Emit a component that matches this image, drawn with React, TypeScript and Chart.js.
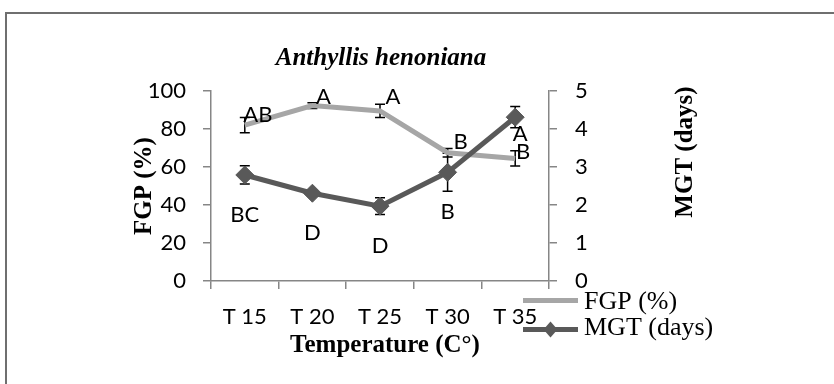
import React, { useEffect, useRef } from 'react';
import { Chart, registerables } from 'chart.js';

Chart.register(...registerables);

// ---- data ----
const categories = ['T 15', 'T 20', 'T 25', 'T 30', 'T 35'];
const fgpValues = [82, 92.3, 89.5, 67.5, 64.5];
const fgpErrors = [4, 1.5, 3.5, 2.3, 4];
const mgtValues = [2.79, 2.31, 1.97, 2.86, 4.31];
const mgtErrors = [0.24, 0.08, 0.22, 0.5, 0.28];
const fgpLetters = ['AB', 'A', 'A', 'B', 'B'];
const mgtLetters = ['BC', 'D', 'D', 'B', 'A'];
const leftAxis = { min: 0, max: 100, step: 20 };
const rightAxis = { min: 0, max: 5, step: 1 };

const chartTitle = 'Anthyllis henoniana';
const xTitle = 'Temperature (C°)';
const yTitle = 'FGP (%)';
const y1Title = 'MGT (days)';
const fgpName = 'FGP (%)';
const mgtName = 'MGT (days)';

// ---- styles ----
const FGP_COLOR = '#a6a6a6';
const MGT_COLOR = '#595959';
const AXIS_COLOR = '#868686';
const SANS = 'Lato, "Open Sans", sans-serif';
const SERIF = '"Liberation Serif", "DejaVu Serif", serif';
const fgpLetterShift = [[13, -10], [11, -9], [13, -14], [13, -11], [8, -7]];
const mgtLetterShift = [[0, 40], [0, 40], [0, 40], [0, 40], [5, 17]];

const decorPlugin = {
  id: 'decor',
  beforeDraw(chart: any) {
    const ctx = chart.ctx;
    ctx.save();
    ctx.fillStyle = '#ffffff';
    ctx.fillRect(0, 0, chart.width, chart.height);
    ctx.strokeStyle = '#6f6f6f';
    ctx.lineWidth = 2;
    ctx.strokeRect(6, 13, chart.width + 20, chart.height + 20);
    ctx.restore();
  },
  beforeDatasetsDraw(chart: any) {
    const ctx = chart.ctx;
    ctx.save();
    ctx.strokeStyle = '#000000';
    ctx.lineWidth = 1.5;
    const sets = [
      { idx: 0, vals: fgpValues, errs: fgpErrors },
      { idx: 1, vals: mgtValues, errs: mgtErrors },
    ];
    sets.forEach(({ idx, vals, errs }) => {
      const meta = chart.getDatasetMeta(idx);
      const scale = chart.scales[meta.yAxisID];
      meta.data.forEach((pt: any, j: number) => {
        const x = pt.x;
        const yT = scale.getPixelForValue(vals[j] + errs[j]);
        const yB = scale.getPixelForValue(vals[j] - errs[j]);
        ctx.beginPath();
        ctx.moveTo(x, yT);
        ctx.lineTo(x, yB);
        ctx.moveTo(x - 5, yT);
        ctx.lineTo(x + 5, yT);
        ctx.moveTo(x - 5, yB);
        ctx.lineTo(x + 5, yB);
        ctx.stroke();
      });
    });
    ctx.restore();
  },
  afterDraw(chart: any) {
    const ctx = chart.ctx;
    const area = chart.chartArea;
    ctx.save();
    // letters
    ctx.fillStyle = '#000000';
    ctx.font = `22px ${SANS}`;
    ctx.textAlign = 'center';
    ctx.textBaseline = 'middle';
    const m0 = chart.getDatasetMeta(0);
    m0.data.forEach((pt: any, j: number) => {
      ctx.fillText(fgpLetters[j], pt.x + fgpLetterShift[j][0], pt.y + fgpLetterShift[j][1]);
    });
    const m1 = chart.getDatasetMeta(1);
    m1.data.forEach((pt: any, j: number) => {
      ctx.fillText(mgtLetters[j], pt.x + mgtLetterShift[j][0], pt.y + mgtLetterShift[j][1]);
    });

    // title
    const cx = (area.left + area.right) / 2;
    ctx.textBaseline = 'alphabetic';
    ctx.font = `italic bold 25px ${SERIF}`;
    ctx.fillText(chartTitle, cx + 1, 65);

    // x title
    ctx.font = `bold 25px ${SERIF}`;
    ctx.fillText(xTitle, cx + 5, 352);

    // y title (left)
    ctx.save();
    ctx.translate(area.left - 66, (area.top + area.bottom) / 2);
    ctx.rotate(-Math.PI / 2);
    ctx.textBaseline = 'middle';
    ctx.fillText(yTitle, 0, 0);
    ctx.restore();

    // y1 title (right)
    ctx.save();
    ctx.translate(area.right + 137, area.top + 61);
    ctx.rotate(-Math.PI / 2);
    ctx.textBaseline = 'middle';
    ctx.fillText(y1Title, 0, 0);
    ctx.restore();

    // legend
    const lx0 = area.right - 26;
    const lx1 = area.right + 29;
    const ly0 = 300.5;
    const ly1 = 329.5;
    ctx.lineCap = 'butt';
    ctx.lineWidth = 5;
    ctx.strokeStyle = FGP_COLOR;
    ctx.beginPath();
    ctx.moveTo(lx0, ly0);
    ctx.lineTo(lx1, ly0);
    ctx.stroke();
    ctx.strokeStyle = MGT_COLOR;
    ctx.beginPath();
    ctx.moveTo(lx0, ly1);
    ctx.lineTo(lx1, ly1);
    ctx.stroke();
    const dx = (lx0 + lx1) / 2;
    ctx.fillStyle = MGT_COLOR;
    ctx.beginPath();
    ctx.moveTo(dx, ly1 - 8);
    ctx.lineTo(dx + 7, ly1);
    ctx.lineTo(dx, ly1 + 8);
    ctx.lineTo(dx - 7, ly1);
    ctx.closePath();
    ctx.fill();
    ctx.fillStyle = '#000000';
    ctx.font = `26px ${SERIF}`;
    ctx.textAlign = 'left';
    ctx.textBaseline = 'alphabetic';
    ctx.fillText(fgpName, lx1 + 6, 309);
    ctx.fillText(mgtName, lx1 + 6, 335);
    ctx.restore();
  },
};

export default function App() {
  const ref = useRef<HTMLCanvasElement | null>(null);
  useEffect(() => {
    if (!ref.current) return;
    const tickFont = { family: SANS, size: 22 };
    const chart = new Chart(ref.current, {
      type: 'line',
      data: {
        labels: categories,
        datasets: [
          {
            label: fgpName,
            data: fgpValues,
            yAxisID: 'y',
            borderColor: FGP_COLOR,
            backgroundColor: FGP_COLOR,
            borderWidth: 5,
            pointRadius: 0,
            pointHoverRadius: 0,
            tension: 0,
            order: 1,
          },
          {
            label: mgtName,
            data: mgtValues,
            yAxisID: 'y1',
            borderColor: MGT_COLOR,
            backgroundColor: MGT_COLOR,
            borderWidth: 5,
            pointStyle: 'rectRot',
            pointRadius: 9,
            pointBackgroundColor: MGT_COLOR,
            pointBorderColor: MGT_COLOR,
            pointBorderWidth: 1,
            tension: 0,
            order: 0,
          },
        ],
      },
      options: {
        responsive: false,
        animation: false,
        events: [],
        layout: { padding: { top: 91, left: 0, right: 0, bottom: 0 } },
        plugins: {
          legend: { display: false },
          title: { display: false },
          tooltip: { enabled: false },
        },
        scales: {
          x: {
            type: 'category',
            offset: true,
            grid: {
              display: true,
              drawOnChartArea: false,
              offset: true,
              tickLength: 8,
              color: AXIS_COLOR,
              lineWidth: 1.5,
            },
            border: { display: true, color: AXIS_COLOR, width: 1.5 },
            ticks: { font: tickFont, color: '#000000', padding: 15, maxRotation: 0, autoSkip: false },
            afterFit: (s: any) => {
              s.height = 103;
            },
          },
          y: {
            position: 'left',
            min: leftAxis.min,
            max: leftAxis.max,
            grid: {
              display: true,
              drawOnChartArea: false,
              tickLength: 8,
              color: AXIS_COLOR,
              lineWidth: 1.5,
            },
            border: { display: true, color: AXIS_COLOR, width: 1.5 },
            ticks: { stepSize: leftAxis.step, font: tickFont, color: '#000000', padding: 17 },
            afterFit: (s: any) => {
              s.width = 211;
            },
          },
          y1: {
            position: 'right',
            min: rightAxis.min,
            max: rightAxis.max,
            grid: {
              display: true,
              drawOnChartArea: false,
              tickLength: 8,
              color: AXIS_COLOR,
              lineWidth: 1.5,
            },
            border: { display: true, color: AXIS_COLOR, width: 1.5 },
            ticks: { stepSize: rightAxis.step, font: tickFont, color: '#000000', padding: 18 },
            afterFit: (s: any) => {
              s.width = 285;
            },
          },
        },
      },
      plugins: [decorPlugin],
    } as any);
    return () => chart.destroy();
  }, []);

  return (
    <div style={{ position: 'fixed', left: 0, top: 0, width: 834, height: 384, background: '#fff' }}>
      <canvas ref={ref} width={834} height={384} style={{ display: 'block' }} />
    </div>
  );
}
